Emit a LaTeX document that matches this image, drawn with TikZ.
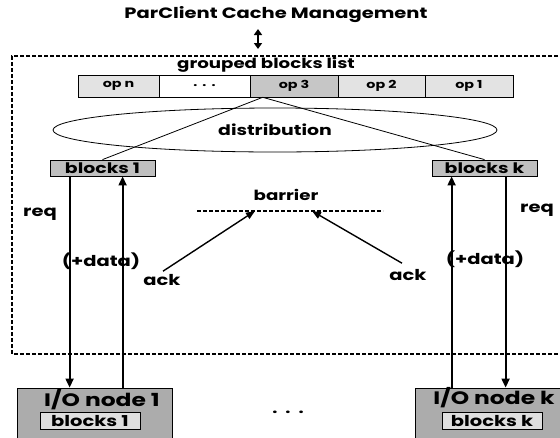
\documentclass[tikz,border=0pt]{standalone}
\usepackage{fontspec}
\setmainfont{Poppins}[FakeStretch=1.3,BoldFeatures={FakeStretch=1.3}]
\usetikzlibrary{arrows.meta,shapes.geometric,calc}
\begin{document}
\begin{tikzpicture}[x=1pt,y=-1pt,
  txt/.style={inner sep=0pt,font=\fontsize{#1}{#1}\selectfont\bfseries},
  txt/.default=12,
  opbox/.style={draw,line width=0.6pt,minimum height=22pt,inner sep=0pt,
    font=\fontsize{11}{11}\selectfont\bfseries},
  blkbox/.style={draw,line width=0.8pt,fill=gray!50,minimum width=105pt,
    minimum height=16pt,inner sep=0pt,font=\fontsize{14.5}{14.5}\selectfont\bfseries},
  iobox/.style={draw,line width=0.8pt,fill=gray!65,minimum height=57pt,inner sep=0pt},
  innerbox/.style={draw,line width=0.6pt,fill=gray!25,minimum width=100pt,
    minimum height=17pt,inner sep=0pt,font=\fontsize{15}{15}\selectfont\bfseries},
  frame/.style={line width=1.2pt,dash pattern=on 4pt off 2pt},
  flow/.style={line width=1.8pt,-{Triangle[length=9pt,width=8pt]}},
  ackarrow/.style={line width=1.4pt,-{Triangle[length=9pt,width=7pt]}},
  thin/.style={line width=0.8pt}]
\useasboundingbox (0,0) rectangle (560,437);

% heading and link to the cache manager
\node[txt=15] (title) at (276,15) {ParClient Cache Management};
\coordinate (linkTop) at (258,29);
\coordinate (linkBot) at (258,49);
\draw[line width=1.8pt,{Triangle[length=6pt,width=8pt]}-{Triangle[length=6pt,width=8pt]}]
  (linkTop) -- (linkBot);

% client frame (right side runs past the border)
\draw[frame] (570,56) -- (12,56) -- (12,354) -- (570,354);

% grouped blocks list
\node[txt=14] (glist) at (266,65) {grouped blocks list};
\node[opbox,fill=gray!22,minimum width=81pt]  (opn)  at (118.5,86) {op n};
\node[opbox,fill=white,minimum width=91pt]    (opd)  at (204.5,86) {.\hspace{5pt}.\hspace{5pt}.};
\node[opbox,fill=gray!45,minimum width=88pt]  (op3)  at (294,86)   {op 3};
\node[opbox,fill=gray!22,minimum width=87pt]  (op2)  at (381.5,86) {op 2};
\node[opbox,fill=gray!22,minimum width=88pt]  (op1)  at (469,86)   {op 1};

% distribution stage
\node[draw,thin,ellipse,minimum width=444pt,minimum height=44pt,inner sep=0pt,
  font=\fontsize{14.5}{14.5}\selectfont\bfseries] (dist) at (275,130) {distribution};

\node[blkbox] (b1) at (102.5,168) {blocks 1};
\node[blkbox] (bk) at (484.5,168) {blocks k};

\coordinate (fork) at ($(op3.south west)+(13,0)$);
\draw[thin] (fork) -- (b1.north);
\draw[thin] (fork) -- (bk.north);

% barrier
\node[txt=14] (barrier) at (286,195) {barrier};
\coordinate (barL) at (197,211);
\coordinate (barR) at (383,211);
\draw[frame] (barL) -- (barR);
\coordinate (tipL) at (255,211);
\coordinate (tipR) at (312,211);
\node[txt=15] (ackl) at (162,280) {ack};
\node[txt=15] (ackr) at (408,275) {ack};
\draw[ackarrow] ($(ackl.north)+(1,-3)$) -- (tipL);
\draw[ackarrow] ($(ackr.north)+(-6,-6)$) -- (tipR);

% I/O nodes
\node[iobox,minimum width=155pt] (io1) at (94.5,416.5) {};
\node[txt=18] (io1t) at (102,400) {I/O node 1};
\node[innerbox] (io1b) at (90,421) {blocks 1};

\node[iobox,minimum width=150pt] (iok) at (490,416.5) {};
\node[txt=18] (iokt) at (494,398) {I/O node k};
\node[innerbox] (iokb) at (492,421) {blocks k};

\node[txt=14] (more) at (288,412) {.\hspace{8pt}.\hspace{8pt}.};

% requests and data transfers
\draw[flow] ($(b1.south west)+(20,0)$) -- ($(io1.north west)+(53,0)$);
\draw[flow] ($(io1.north west)+(106,0)$) -- ($(b1.south west)+(73,0)$);
\draw[flow] ($(bk.south west)+(74,0)$) -- ($(iok.north west)+(91,0)$);
\draw[flow] ($(iok.north west)+(37,0)$) -- ($(bk.south west)+(20,0)$);

\node[txt=15] (req1) at (40,214) {req};
\node[txt=15] (reqk) at (537,210) {req};
\node[txt=15] (data1) at (101,261) {(+data)};
\node[txt=15] (datak) at (485,259) {(+data)};
\end{tikzpicture}
\end{document}
